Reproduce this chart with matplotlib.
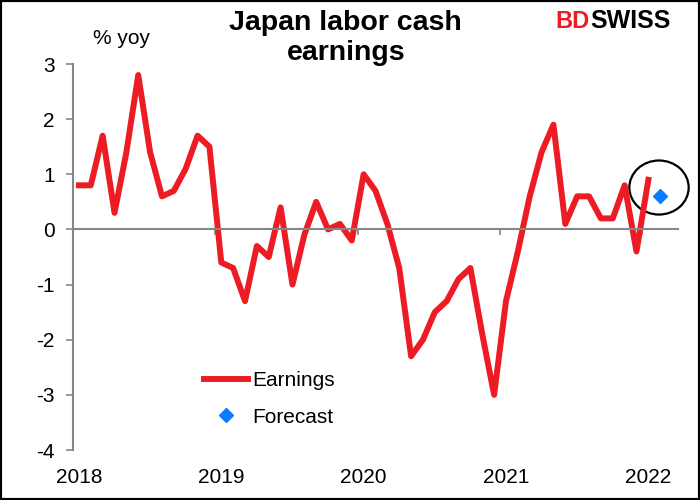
import matplotlib
matplotlib.use("Agg")
import matplotlib.pyplot as plt
from matplotlib.patches import Ellipse, Rectangle

plt.rcParams['font.family'] = ['Liberation Sans', 'DejaVu Sans']
plt.rcParams['axes.unicode_minus'] = False

# monthly % yoy, Jan 2018 .. Jan 2022
earnings = [0.8, 0.8, 1.7, 0.3, 1.4, 2.8, 1.4, 0.6, 0.7, 1.1, 1.7, 1.5,     # 2018
            -0.6, -0.7, -1.3, -0.3, -0.5, 0.4, -1.0, -0.1, 0.5, 0.0, 0.1, -0.2,  # 2019
            1.0, 0.7, 0.1, -0.7, -2.3, -2.0, -1.5, -1.3, -0.9, -0.7, -1.9, -3.0,  # 2020
            -1.3, -0.4, 0.6, 1.4, 1.9, 0.1, 0.6, 0.6, 0.2, 0.2, 0.8, -0.4,   # 2021
            0.9]                                                           # 2022
forecast_month = 49   # Feb 2022
forecast_value = 0.6
years = ['2018', '2019', '2020', '2021', '2022']
n_months = 51         # axis runs to Mar 2022

RED = '#ED1C24'
GREY = '#868686'

fig = plt.figure(figsize=(7, 5), dpi=100)
ax = fig.add_axes([73 / 700, 0.1, 605 / 700, 386 / 500])

months = list(range(len(earnings)))
ax.plot(months, earnings, color=RED, lw=4.3, solid_joinstyle='round', label='Earnings')
ax.plot([forecast_month], [forecast_value], 'D', color='#0A7CFF', ms=7, ls='none', label='Forecast')

# circle around the latest readings
ax.add_patch(Ellipse((48.9, 0.76), width=5.0, height=0.98, fill=False,
                     ec='black', lw=1.6, clip_on=False))

ax.set_xlim(-0.5, n_months - 0.5)
ax.set_ylim(-4, 3)
ax.set_yticks(range(-4, 4))
ax.tick_params(axis='y', direction='out', length=5, width=1.2, color=GREY,
               labelsize=15, pad=8)

for s in ['top', 'right']:
    ax.spines[s].set_visible(False)
ax.spines['left'].set_color(GREY)
ax.spines['left'].set_linewidth(1.5)
ax.spines['bottom'].set_position(('data', 0))
ax.spines['bottom'].set_color(GREY)
ax.spines['bottom'].set_linewidth(1.5)

# year boundary ticks on the zero line, labels at the bottom
ax.set_xticks([12 * i - 0.5 for i in range(len(years))])
ax.set_xticklabels([])
ax.tick_params(axis='x', direction='out', length=4, width=1.2, color=GREY)

sec = ax.secondary_xaxis('bottom')
sec.set_xticks([12 * i for i in range(len(years))], labels=years)
sec.tick_params(length=0, labelsize=15, pad=13)
sec.spines['bottom'].set_visible(False)

ax.legend(loc='upper left', bbox_to_anchor=(204 / 700, 1 - 371 / 500),
          bbox_transform=fig.transFigure, frameon=False, fontsize=15,
          borderpad=0, borderaxespad=0, handlelength=2.1, handletextpad=0.2,
          labelspacing=0.85, numpoints=1)

fig.text(0.494, 1 - 10 / 500, 'Japan labor cash\nearnings', ha='center', va='top',
         fontsize=20.5, fontweight='bold', linespacing=1.2)
fig.text(93 / 700, 1 - 38 / 500, '% yoy', va='center', fontsize=15)

# logo text
fig.text(555 / 700, 1 - 21 / 500, 'BD', color=RED, fontsize=17,
         fontweight='bold', va='center')
fig.text(590 / 700, 1 - 21 / 500, 'SWISS', color='black', fontsize=18,
         fontweight='bold', va='center')

fig.patches.append(Rectangle((0, 0), 1, 1, transform=fig.transFigure,
                             fill=False, ec='black', lw=3))

plt.savefig('out.png', dpi=100)
